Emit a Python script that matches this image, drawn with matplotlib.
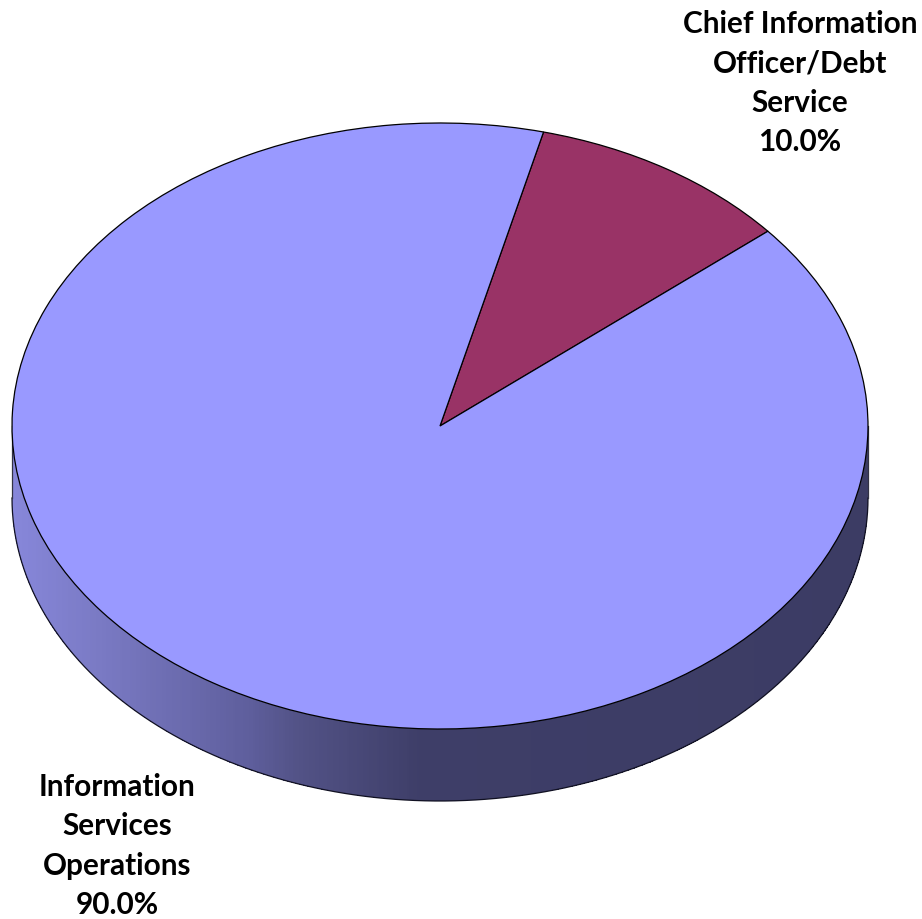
import numpy as np
import matplotlib
matplotlib.use("Agg")
import matplotlib.pyplot as plt
from matplotlib.colors import LinearSegmentedColormap

plt.rcParams['font.family'] = ['Lato', 'DejaVu Sans']

# budget shares
categories = ["Chief Information\nOfficer/Debt\nService", "Information\nServices\nOperations"]
shares = [10.0, 90.0]
slice_colors = ["#993366", "#9999FF"]

W, H = 922, 919
CX, CY = 440, 426       # centre of the top face, pixels
RX, RY = 428, 303       # radii of the top face, pixels
DEPTH = 72 / RY         # height of the disc in y units


def px(x, y):
    # pixel position to data units of the unit-circle axes
    return (x - CX) / RX, (CY - y) / RY


def draw_wall(ax):
    # front wall of the disc, shaded from the left edge to just short of the middle
    cmap = LinearSegmentedColormap.from_list("wall", [
        (0.0, "#8787DA"), (0.10, "#7A7AC4"), (0.278, "#5E5E9C"),
        (0.336, "#525286"), (0.477, "#3E3E68"), (1.0, "#3C3C64")])
    x = np.linspace(-1, 1, 430)
    top = -np.sqrt(np.clip(1 - x ** 2, 0, 1))
    X = np.column_stack([x, x])
    Y = np.column_stack([top, top - DEPTH])
    C = ((x[:-1] + x[1:]) / 2 + 1) / 2
    ax.pcolormesh(X, Y, C[:, None], cmap=cmap, vmin=0, vmax=1,
                  shading="flat", antialiased=False, zorder=1)

    # outline of the wall
    t = np.linspace(np.pi, 2 * np.pi, 400)
    ax.plot(np.cos(t), np.sin(t) - DEPTH, color="#111122", lw=0.9, zorder=2)
    ax.plot([-1, -1], [0, -DEPTH], color="#333344", lw=0.9, zorder=2)
    ax.plot([1, 1], [0, -DEPTH], color="#333344", lw=0.9, zorder=2)


fig = plt.figure(figsize=(W / 100, H / 100), dpi=100)
ax = fig.add_axes([0, 0, 1, 1])

draw_wall(ax)

wedges, _ = ax.pie(shares, colors=slice_colors, startangle=40, counterclock=True,
                   wedgeprops={"edgecolor": "black", "linewidth": 0.9, "zorder": 3})

ax.set_aspect("auto")
ax.set_xlim(px(0, 0)[0], px(W, 0)[0])
ax.set_ylim(px(0, H)[1], px(0, 0)[1])
ax.axis("off")

# slice labels
label_pos = [(800, 83), (117, 846)]
for name, share, pos in zip(categories, shares, label_pos):
    x, y = px(*pos)
    ax.text(x, y, f"{name}\n{share:.1f}%", ha="center", va="center", fontsize=21.4,
            fontweight="bold", color="black", linespacing=1.5, zorder=5)

fig.savefig("out.png", dpi=100)
